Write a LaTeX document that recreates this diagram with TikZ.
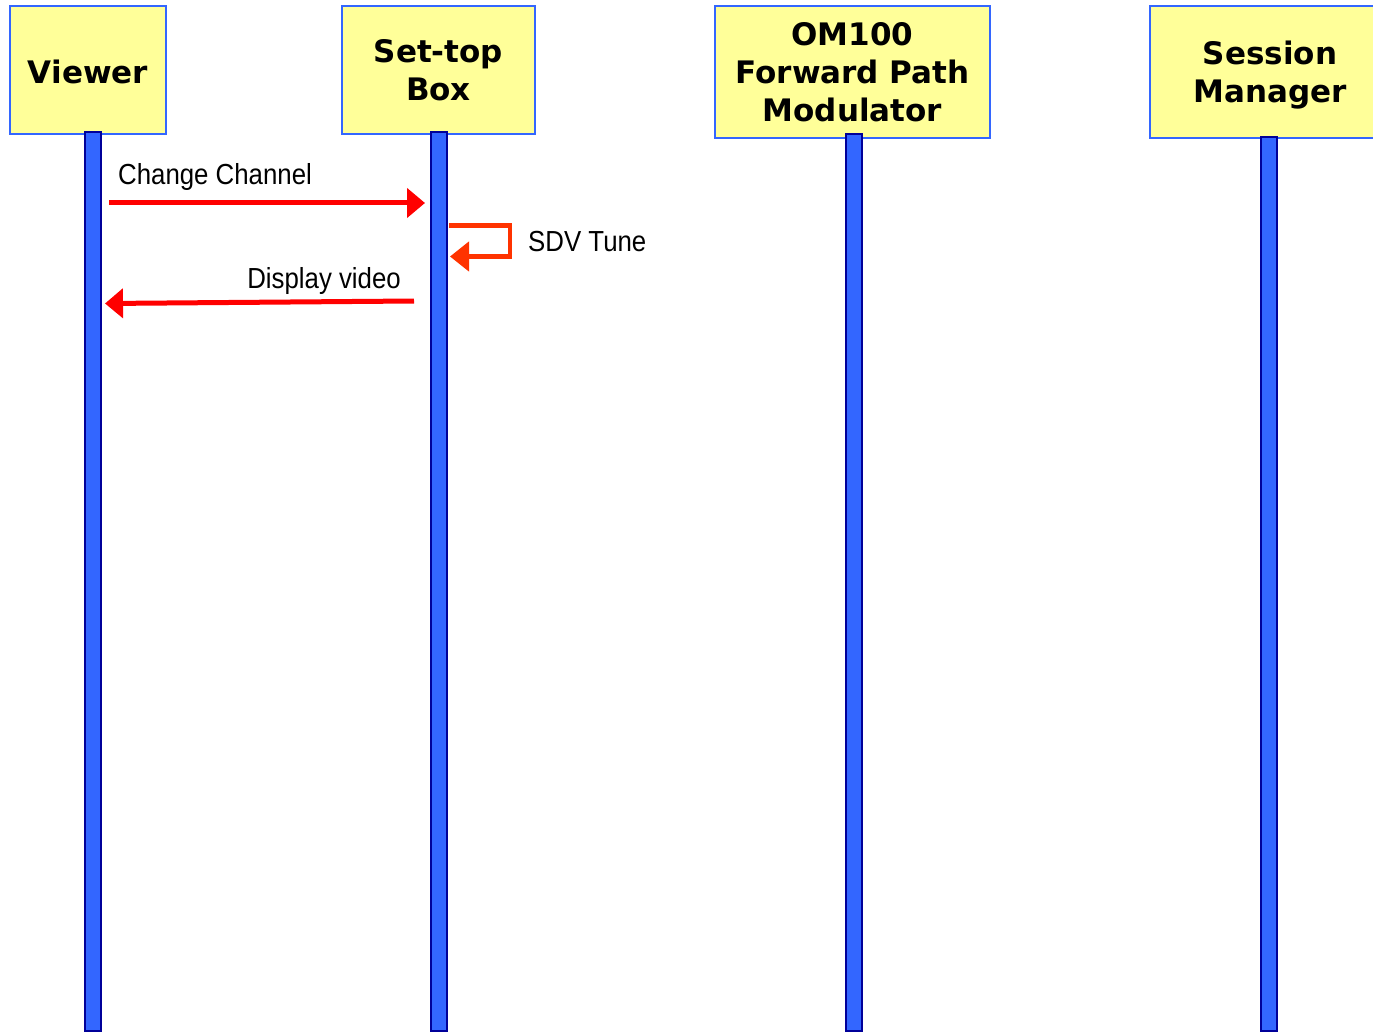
\documentclass[tikz,border=0pt]{standalone}
\usepackage{fontspec}
\usetikzlibrary{arrows.meta,calc}
\newfontfamily\headfont{DejaVu Sans}
\newfontfamily\msgfont[FakeStretch=0.89]{Liberation Sans}
\definecolor{boxfill}{HTML}{FFFF99}
\definecolor{boxline}{HTML}{3366FF}
\definecolor{lifefill}{HTML}{3366FF}
\definecolor{lifeedge}{HTML}{000099}
\definecolor{msgred}{HTML}{FF0000}
\definecolor{selfred}{HTML}{FF3300}
\begin{document}
\begin{tikzpicture}[x=1pt,y=-1pt,
  actor/.style={draw=boxline, fill=boxfill, line width=2.5pt, inner sep=0pt,
    align=center, font=\headfont\bfseries\fontsize{31}{38}\selectfont},
  life/.style={draw=lifeedge, fill=lifefill, line width=2pt},
  msg/.style={draw=msgred, line width=5pt, -{Triangle[length=18pt,width=29pt]}},
  selfmsg/.style={draw=selfred, line width=4.5pt, line join=miter,
    -{Triangle[length=19pt,width=29pt]}},
  lbl/.style={font=\msgfont\fontsize{29}{34}\selectfont, inner sep=0pt}]

\useasboundingbox (0,0) rectangle (1373,1032);
\clip (0,0) rectangle (1373,1032);

% participant boxes
\node[actor, minimum width=156pt, minimum height=128pt, text height=28pt, text depth=0pt] (viewer) at (88,70) {Viewer};
\node[actor, minimum width=193pt, minimum height=128pt] (stb) at (438.5,70) {Set-top\\Box};
\node[actor, minimum width=275pt, minimum height=132pt] (om) at (852.5,72) {OM100\\Forward Path\\Modulator};
\node[actor, minimum width=240pt, minimum height=132pt, text depth=0pt] (sm) at (1270,72) {Session\\Manager};

% lifelines
\draw[life] (84.5,132) rectangle (100.5,1031);
\draw[life] (430.5,132) rectangle (446.5,1031);
\draw[life] (845.5,134) rectangle (861.5,1031);
\draw[life] (1260.5,137) rectangle (1276.5,1031);

% message end points on the lifelines
\coordinate (cc-from) at (109,203);
\coordinate (cc-to)   at (425,203);
\coordinate (dv-from) at (414,301);
\coordinate (dv-to)   at (105,303.5);
\coordinate (sdv-a)   at (449,225.5);
\coordinate (sdv-b)   at (510,225.5);
\coordinate (sdv-c)   at (510,256.5);
\coordinate (sdv-d)   at (450,256.5);

% messages
\draw[msg] (cc-from) -- (cc-to);
\node[lbl, anchor=base west] (cc-label) at (118,185) {Change Channel};

\draw[selfmsg] (sdv-a) -- (sdv-b) -- (sdv-c) -- (sdv-d);
\node[lbl, anchor=base west] (sdv-label) at (528,252) {SDV Tune};

\draw[msg] (dv-from) -- (dv-to);
\node[lbl, anchor=base east] (dv-label) at (401,288) {Display video};
\end{tikzpicture}
\end{document}
